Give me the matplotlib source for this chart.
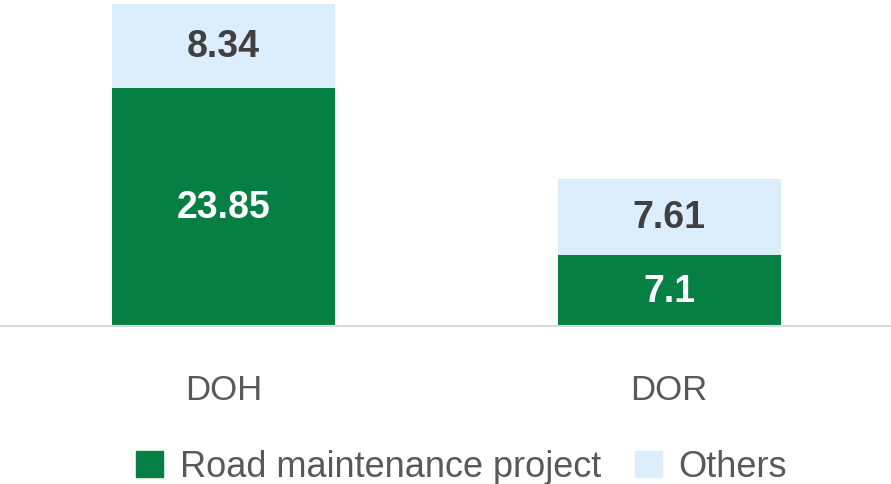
import matplotlib.pyplot as plt
from matplotlib.patches import Patch

plt.rcParams["font.family"] = ["Liberation Sans", "DejaVu Sans"]

categories = ["DOH", "DOR"]
road = [23.85, 7.1]
others = [8.34, 7.61]

green = "#057f43"
light = "#dcedfb"

fig = plt.figure(figsize=(8.91, 4.85), dpi=100)
ax = fig.add_axes([0, 1 - 327 / 485, 1, 326 / 485])

x = list(range(len(categories)))
ax.bar(x, road, width=0.5, color=green)
ax.bar(x, others, width=0.5, bottom=road, color=light)

for i in x:
    ax.text(i, road[i] / 2, str(road[i]), ha="center", va="center",
            fontsize=27, fontweight="bold", color="white")
    ax.text(i, road[i] + others[i] / 2, str(others[i]), ha="center", va="center",
            fontsize=27, fontweight="bold", color="#404040")

ax.set_xlim(-0.502, 1.498)
ax.set_ylim(0, 32.6)
ax.set_xticks(x)
ax.set_xticklabels(categories, fontsize=25, color="#595959")
ax.tick_params(axis="x", length=0, pad=34)
ax.set_yticks([])
for s in ["top", "left", "right"]:
    ax.spines[s].set_visible(False)
ax.spines["bottom"].set_color("#d9d9d9")
ax.spines["bottom"].set_linewidth(1.5)

handles = [Patch(color=green), Patch(color=light)]
fig.legend(handles, ["Road maintenance project", "Others"], loc="center",
           bbox_to_anchor=(0.518, 1 - 468 / 485), ncol=2, frameon=False,
           fontsize=26, labelcolor="#595959", handlelength=0.75, handleheight=0.75,
           handletextpad=0.45, columnspacing=0.95, borderpad=0)

fig.savefig("out.png", dpi=100)
